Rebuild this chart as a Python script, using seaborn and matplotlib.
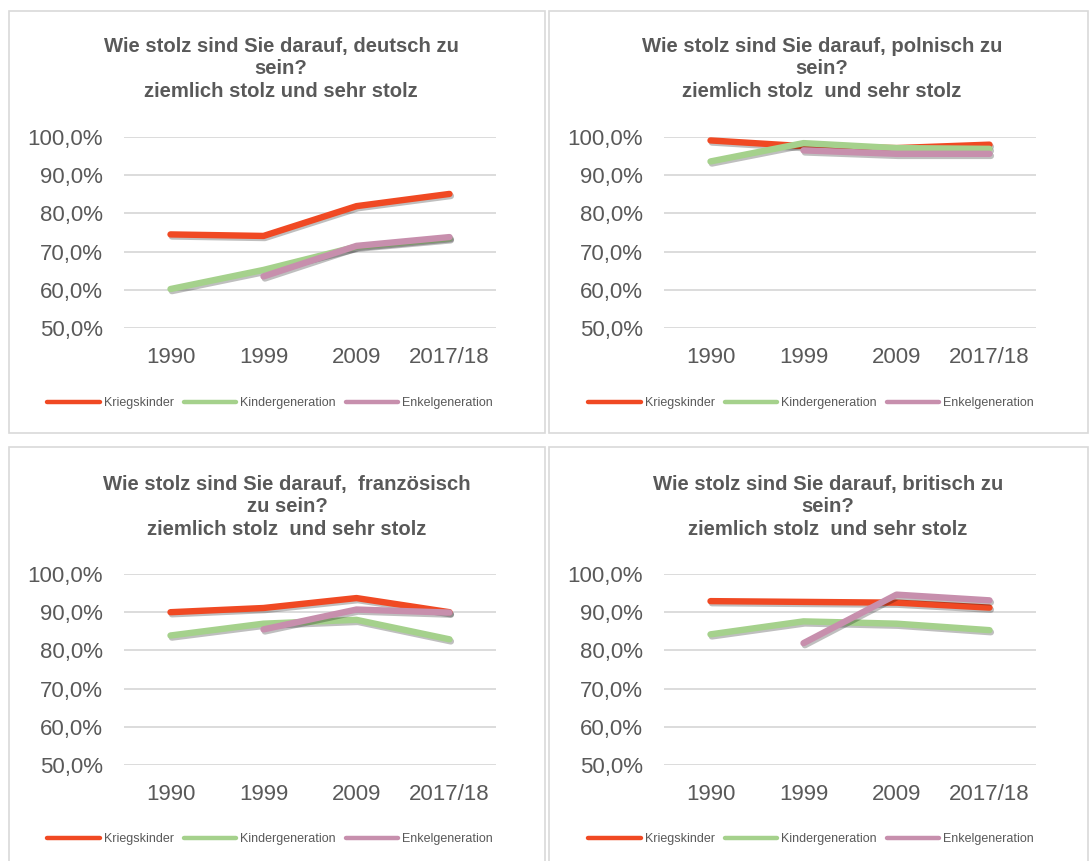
import numpy as np
import pandas as pd
import matplotlib
matplotlib.use("Agg")
import matplotlib.pyplot as plt
import matplotlib.patheffects as pe
from matplotlib.patches import Rectangle
from matplotlib.ticker import FuncFormatter
import seaborn as sns

# Survey waves and generations
years = ["1990", "1999", "2009", "2017/18"]
groups = ["Kriegskinder", "Kindergeneration", "Enkelgeneration"]

# Share "ziemlich stolz" + "sehr stolz" in percent (NaN = no data for that wave)
deutsch_krieg = [74.5, 74.1, 81.9, 85.1]
deutsch_kinder = [60.2, 65.2, 71.3, 73.5]
deutsch_enkel = [np.nan, 63.5, 71.5, 73.8]

polnisch_krieg = [99.1, 97.6, 97.1, 98.0]
polnisch_kinder = [93.6, 98.4, 97.1, 96.9]
polnisch_enkel = [np.nan, 96.5, 95.6, 95.6]

franz_krieg = [90.0, 91.1, 93.7, 90.0]
franz_kinder = [83.9, 87.0, 88.0, 82.9]
franz_enkel = [np.nan, 85.5, 90.7, 89.9]

brit_krieg = [92.9, 92.7, 92.5, 91.2]
brit_kinder = [84.2, 87.6, 87.0, 85.3]
brit_enkel = [np.nan, 81.9, 94.6, 93.1]

titles = [
    "Wie stolz sind Sie darauf, deutsch zu\nsein?\nziemlich stolz und sehr stolz",
    "Wie stolz sind Sie darauf, polnisch zu\nsein?\nziemlich stolz  und sehr stolz",
    "Wie stolz sind Sie darauf,  französisch\nzu sein?\nziemlich stolz  und sehr stolz",
    "Wie stolz sind Sie darauf, britisch zu\nsein?\nziemlich stolz  und sehr stolz",
]
panels = [
    (deutsch_krieg, deutsch_kinder, deutsch_enkel),
    (polnisch_krieg, polnisch_kinder, polnisch_enkel),
    (franz_krieg, franz_kinder, franz_enkel),
    (brit_krieg, brit_kinder, brit_enkel),
]
y_ticks = [50, 60, 70, 80, 90, 100]

palette = {"Kriegskinder": "#F04923",
           "Kindergeneration": "#A5D18C",
           "Enkelgeneration": "#C78FAD"}

sns.set_theme(style="white")
plt.rcParams["font.family"] = ["Liberation Sans", "DejaVu Sans"]

W, H = 1090, 861
fig = plt.figure(figsize=(W / 100, H / 100), dpi=100)
fig.patch.set_facecolor("white")

text_grey = "#595959"
grid_grey = "#D9D9D9"

# panel frame boxes (pixels: left, top, right, bottom)
frames = [(9, 11, 545, 433), (549, 11, 1088, 433),
          (9, 447, 545, 880), (549, 447, 1088, 880)]
# plot areas (pixels: left, top, right, bottom)
areas = [(124, 137, 496, 328), (664, 137, 1036, 328),
         (124, 574, 496, 765), (664, 574, 1036, 765)]
title_pos = [(281, 69), (822, 69), (287, 507), (828, 507)]
legend_pos = [(270, 403), (811, 403), (270, 839), (811, 839)]

for (l, t, r, b) in frames:
    fig.patches.append(Rectangle((l / W, 1 - b / H), (r - l) / W, (b - t) / H,
                                 transform=fig.transFigure, fill=False,
                                 edgecolor=grid_grey, linewidth=1.2, zorder=0))

pct = FuncFormatter(lambda v, _: f"{v:.1f}".replace(".", ",") + "%")

for i, (vals, title) in enumerate(zip(panels, titles)):
    l, t, r, b = areas[i]
    ax = fig.add_axes([l / W, 1 - b / H, (r - l) / W, (b - t) / H])
    rows = []
    for g, series in zip(groups, vals):
        for yr, v in zip(years, series):
            rows.append({"Jahr": yr, "Gruppe": g, "Wert": v})
    df = pd.DataFrame(rows).dropna()

    sns.lineplot(data=df, x="Jahr", y="Wert", hue="Gruppe", hue_order=groups,
                 palette=palette, linewidth=4.6, ax=ax, sort=False,
                 legend=True)
    h, lab = ax.get_legend_handles_labels()
    ax.get_legend().remove()

    for ln in ax.get_lines():
        ln.set_solid_capstyle("round")
        ln.set_solid_joinstyle("round")
        ln.set_path_effects([pe.SimpleLineShadow(offset=(1.0, -1.5),
                                                 shadow_color="black", alpha=0.25),
                             pe.Normal()])
        ln.set_clip_on(False)

    ax.set_xlim(-0.5, 3.5)
    ax.set_ylim(50, 100)
    ax.set_yticks(y_ticks)
    ax.yaxis.set_major_formatter(pct)
    ax.set_xlabel("")
    ax.set_ylabel("")
    ax.grid(axis="y", color=grid_grey, linewidth=1.3)
    ax.grid(axis="x", visible=False)
    for s in ax.spines.values():
        s.set_visible(False)
    ax.tick_params(axis="both", length=0, labelsize=16, labelcolor=text_grey)
    ax.tick_params(axis="y", pad=15)
    ax.tick_params(axis="x", pad=14)
    ax.set_facecolor("none")

    lx, ly = legend_pos[i]
    leg = ax.legend(h, lab, loc="center", bbox_to_anchor=(lx / W, 1 - ly / H),
                    bbox_transform=fig.transFigure, ncol=3, frameon=False,
                    fontsize=9, labelcolor=text_grey, handlelength=4.2,
                    handletextpad=0.3, columnspacing=0.8)
    for lh in leg.get_lines():
        lh.set_path_effects([])
        lh.set_linewidth(3.2)
        lh.set_solid_capstyle("round")

    tx, ty = title_pos[i]
    fig.text(tx / W, 1 - ty / H, title, ha="center", va="center",
             fontsize=14.6, fontweight="bold", color=text_grey,
             linespacing=1.25)

fig.savefig("out.png", dpi=100, facecolor="white")
